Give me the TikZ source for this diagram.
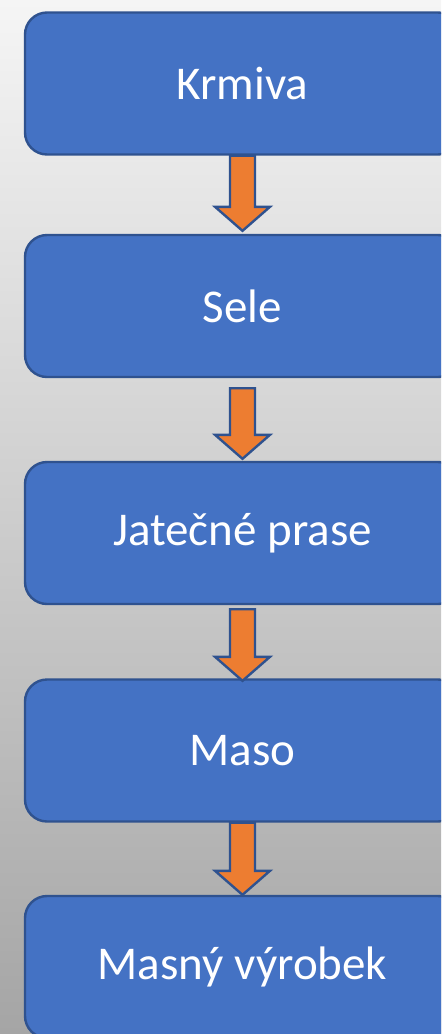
\documentclass[tikz,border=0pt]{standalone}
\usepackage{fontspec}
\setmainfont{Carlito}
\usetikzlibrary{calc,positioning}

\definecolor{boxblue}{RGB}{68,114,196}
\definecolor{boxedge}{RGB}{47,82,143}
\definecolor{arroworange}{RGB}{237,125,49}
\definecolor{bgtop}{RGB}{245,245,245}
\definecolor{bgbottom}{RGB}{165,165,165}

\tikzset{
	stage/.style	= {draw=boxedge, fill=boxblue, line width=1.2pt, rounded corners=11pt,
			   minimum width=217.5pt, minimum height=71pt, inner sep=0pt,
			   text=white, font=\fontsize{23.5}{28}\selectfont},
	flowarrow/.style	= {draw=boxedge, fill=arroworange, line width=1.2pt, line join=miter},
}

% fat arrow from the bottom of #1 (start gap #3) to the top of #2 (tip gap #4)
\newcommand{\blockarrow}[4]{%
\draw [flowarrow, xshift=-1pt]
	($(#1.south)+(-12.5,#3)$) -- ($(#2.north)+(-12.5,-#4-24)$) -- ($(#2.north)+(-27.5,-#4-24)$)
	-- ($(#2.north)+(0,-#4)$)
	-- ($(#2.north)+(27.5,-#4-24)$) -- ($(#2.north)+(12.5,-#4-24)$) -- ($(#1.south)+(12.5,#3)$) -- cycle;
}

\begin{document}
\begin{tikzpicture}
[
	x	= 0.5pt,	% one unit is one pixel of the sketch
	y	= -0.5pt,	% y counts downwards, as in the sketch
]

\clip (0,0) rectangle (441,1034);
\shade [top color=bgtop, bottom color=bgbottom] (0,0) rectangle (441,1034);


\node [stage] (krmiva)	at (242.5,83.5)	{Krmiva};
\node [stage] (sele)	at (242.5,306)	{Sele};
\node [stage] (prase)	at (242.5,533)	{Jatečné prase};
\node [stage] (maso)	at (242.5,750.5)	{Maso};
\node [stage] (vyrobek)	at (242.5,967)	{Masný výrobek};


\blockarrow{krmiva}{sele}{0}{3}
\blockarrow{sele}{prase}{10}{2}
\blockarrow{prase}{maso}{4}{-2.5}
\blockarrow{maso}{vyrobek}{0}{0}


\end{tikzpicture}
\end{document}
